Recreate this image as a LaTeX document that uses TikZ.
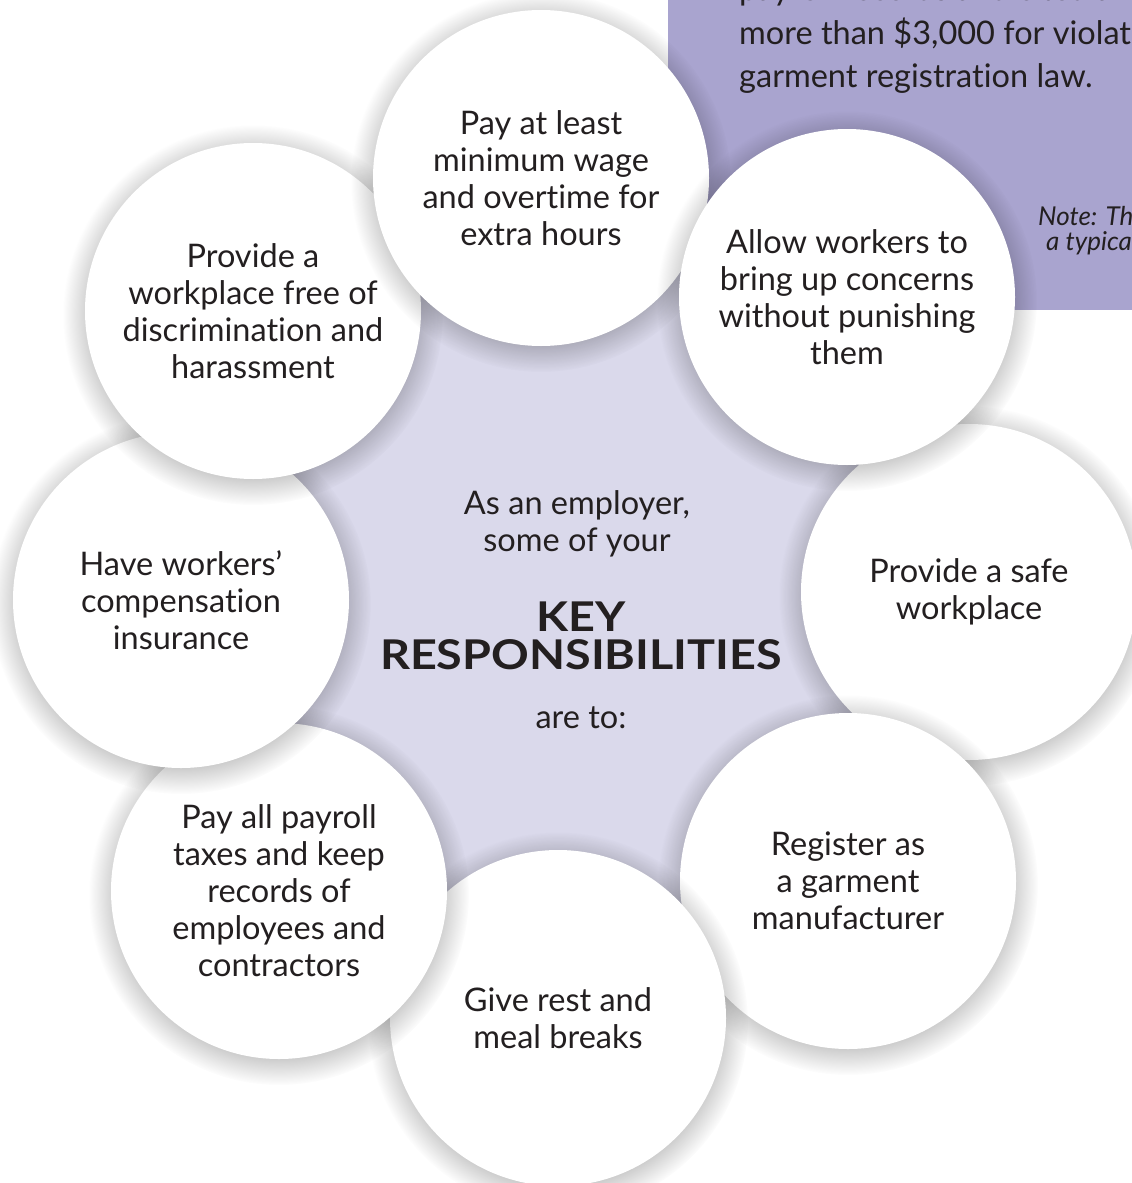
\documentclass[tikz,border=0pt]{standalone}
\usepackage{fontspec}
\setmainfont{Lato}[Ligatures=NoCommon]
\newfontfamily\keyfont{Lato}[Ligatures=NoCommon, FakeStretch=1.14]
\usetikzlibrary{fadings}

\definecolor{boxpurple}{HTML}{A9A4CF}
\definecolor{hublilac}{HTML}{DAD9EB}
\definecolor{inkgrey}{HTML}{231F20}

\tikzset{
  duty/.style={circle, fill=white, minimum size=336pt, inner sep=0pt, align=center,
    text=inkgrey, font=\fontsize{32.5}{37}\selectfont},
  softshade/.style={fill=black, fill opacity=0.28, path fading=circle with fuzzy edge 20 percent},
  hubtext/.style={align=center, text=inkgrey, font=\fontsize{32.5}{37}\selectfont},
  boxtext/.style={anchor=base west, text=inkgrey, font=\fontsize{32.5}{43}\selectfont, inner sep=0pt},
  notetext/.style={anchor=base west, text=inkgrey, font=\fontsize{26}{26}\selectfont\itshape, inner sep=0pt},
}

\begin{document}
\begin{tikzpicture}[x=1pt, y=-1pt]
  \useasboundingbox (0,0) rectangle (1132,1183);
  \clip (0,0) rectangle (1132,1183);

  % Circle centres
  \coordinate (wage) at (541,178);
  \coordinate (voice) at (847,297);
  \coordinate (safe) at (969,592);
  \coordinate (register) at (848,881);
  \coordinate (breaks) at (558,1018);
  \coordinate (payroll) at (279,891);
  \coordinate (comp) at (181,600);
  \coordinate (fair) at (253,311);

  % Fact box (top right)
  \fill[boxpurple] (668,-5) rectangle (1140,310);
  \node[boxtext] (fact1) at (739,1) {payroll records and cited a};
  \node[boxtext] (fact2) at (739,44) {more than \$3,000 for violating};
  \node[boxtext] (fact3) at (739,87) {garment registration law.};
  \node[notetext] (note1) at (1038,225) {Note: This};
  \node[notetext] (note2) at (1046,250) {a typical};

  % Lilac hub behind the circles
  \fill[hublilac] (wage) -- (voice) -- (safe) -- (register) -- (breaks) -- (payroll) -- (comp) -- (fair) -- cycle;

  % Responsibility circles, each over a soft shadow
  \fill[softshade] (safe) ++(0,4) circle (190);
  \node[duty] (c-safe) at (safe) {Provide a safe\\workplace};
  \fill[softshade] (register) ++(0,4) circle (190);
  \node[duty] (c-register) at (register) {Register as\\a garment\\manufacturer};
  \fill[softshade] (breaks) ++(0,4) circle (190);
  \node[duty] (c-breaks) at (breaks) {Give rest and\\meal breaks};
  \fill[softshade] (payroll) ++(0,4) circle (190);
  \node[duty] (c-payroll) at (payroll) {Pay all payroll\\taxes and keep\\records of\\employees and\\contractors};
  \fill[softshade] (comp) ++(0,4) circle (190);
  \node[duty] (c-comp) at (comp) {Have workers'\\compensation\\insurance};
  \fill[softshade] (fair) ++(0,4) circle (190);
  \node[duty] (c-fair) at (fair) {Provide a\\workplace free of\\discrimination and\\harassment};
  \fill[softshade] (wage) ++(0,4) circle (190);
  \node[duty] (c-wage) at (wage) {Pay at least\\minimum wage\\and overtime for\\extra hours};
  \fill[softshade] (voice) ++(0,4) circle (190);
  \node[duty] (c-voice) at (voice) {Allow workers to\\bring up concerns\\without punishing\\them};

  % Hub text
  \node[hubtext] (intro) at (577,524) {As an employer,\\ some of your};
  \node[hubtext, font=\fontsize{41}{38}\keyfont\bfseries] (key) at (581,636) {KEY\\RESPONSIBILITIES};
  \node[hubtext] (areto) at (581,718) {are to:};
\end{tikzpicture}
\end{document}
